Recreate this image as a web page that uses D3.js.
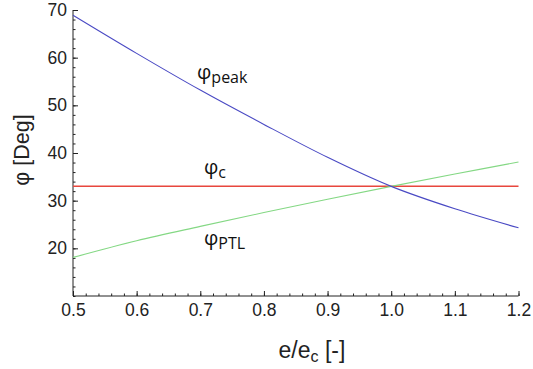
<!DOCTYPE html>
<html>
<head>
<meta charset="utf-8">
<script src="https://cdn.jsdelivr.net/npm/d3@7"></script>
<style>
  html, body { margin: 0; padding: 0; background: #fff; }
  svg { display: block; }
  .tick text { font-family: "Liberation Sans", Arial, sans-serif; font-size: 17.5px; fill: #222; }
  .axis path, .axis line { stroke: #222; }
</style>
</head>
<body>
<script>
// Void ratio e/e_c along the x axis
const ratio = [0.5, 0.6, 0.7, 0.8, 0.9, 1.0, 1.1, 1.2];
// Peak friction angle (deg)
const phiPeak = [68.9, 60.9, 53.2, 46.0, 39.1, 33.0, 28.3, 24.3];
// Phase transformation line angle (deg)
const phiPTL = [18.1, 21.6, 24.6, 27.5, 30.3, 33.0, 35.6, 38.1];
// Critical state friction angle (deg), constant
const phiC = [33, 33, 33, 33, 33, 33, 33, 33];

const xTicks = [0.5, 0.6, 0.7, 0.8, 0.9, 1.0, 1.1, 1.2];
const yTicks = [20, 30, 40, 50, 60, 70];

const W = 533, H = 369;
const plotL = 73, plotR = 518.5, plotT = 10, plotB = 296;

const svg = d3.select("body").append("svg").attr("width", W).attr("height", H);

const x = d3.scaleLinear().domain([0.5, 1.2]).range([plotL, plotR]);
const y = d3.scaleLinear().domain([10, 70]).range([plotB, plotT]);

// minor ticks
svg.append("g").attr("class", "axis").attr("transform", `translate(${plotL},0)`)
  .call(d3.axisLeft(y).tickValues(d3.range(10, 70.01, 2)).tickSize(-2.5).tickFormat(""))
  .call(g => g.select(".domain").remove());
svg.append("g").attr("class", "axis").attr("transform", `translate(0,${plotB})`)
  .call(d3.axisBottom(x).tickValues(d3.range(0.5, 1.2001, 0.02)).tickSize(-2.5).tickFormat(""))
  .call(g => g.select(".domain").remove());

// major axes
svg.append("g").attr("class", "axis").attr("transform", `translate(${plotL},0)`)
  .call(d3.axisLeft(y).tickValues(yTicks).tickSize(-5).tickPadding(6).tickSizeOuter(0))
  .call(g => g.select(".domain").attr("d", `M0,${plotT}V${plotB}`));
svg.append("g").attr("class", "axis").attr("transform", `translate(0,${plotB})`)
  .call(d3.axisBottom(x).tickValues(xTicks).tickSize(-5).tickPadding(8).tickSizeOuter(0)
        .tickFormat(d3.format(".1f")))
  .call(g => g.select(".domain").attr("d", `M${plotL},0H${plotR}`));

// curves
const line = vals => d3.line()
  .x((d, i) => x(ratio[i]))
  .y(d => y(d))
  .curve(d3.curveCatmullRom)(vals);

svg.append("path").attr("d", line(phiC)).attr("fill", "none")
  .attr("stroke", "#e8473d").attr("stroke-width", 1.5);
svg.append("path").attr("d", line(phiPTL)).attr("fill", "none")
  .attr("stroke", "#84d884").attr("stroke-width", 1.1);
svg.append("path").attr("d", line(phiPeak)).attr("fill", "none")
  .attr("stroke", "#4a4ac4").attr("stroke-width", 1.1);

// curve labels
const labelFont = "'Open Sans', 'Noto Sans', sans-serif";
function label(px, py, sub) {
  const t = svg.append("text").attr("x", px).attr("y", py)
    .attr("font-family", labelFont).attr("font-size", 20).attr("fill", "#111");
  t.append("tspan").text("φ");
  t.append("tspan").attr("font-size", 16).attr("dy", 4).text(sub);
}
label(197, 79, "peak");
label(204, 174, "c");
label(204, 245, "PTL");

// axis titles
svg.append("text")
  .attr("transform", "translate(29,150) rotate(-90)")
  .attr("text-anchor", "middle")
  .attr("font-family", "'Liberation Sans', Arial, sans-serif")
  .attr("font-size", 21.5).attr("fill", "#222")
  .text("φ [Deg]");

const xt = svg.append("text")
  .attr("x", 312).attr("y", 358)
  .attr("text-anchor", "middle")
  .attr("font-family", "'Liberation Sans', Arial, sans-serif")
  .attr("font-size", 23).attr("fill", "#222");
xt.append("tspan").text("e/e");
xt.append("tspan").attr("font-size", 16).attr("dy", 4).text("c");
xt.append("tspan").attr("dy", -4).text(" [-]");
</script>
</body>
</html>
